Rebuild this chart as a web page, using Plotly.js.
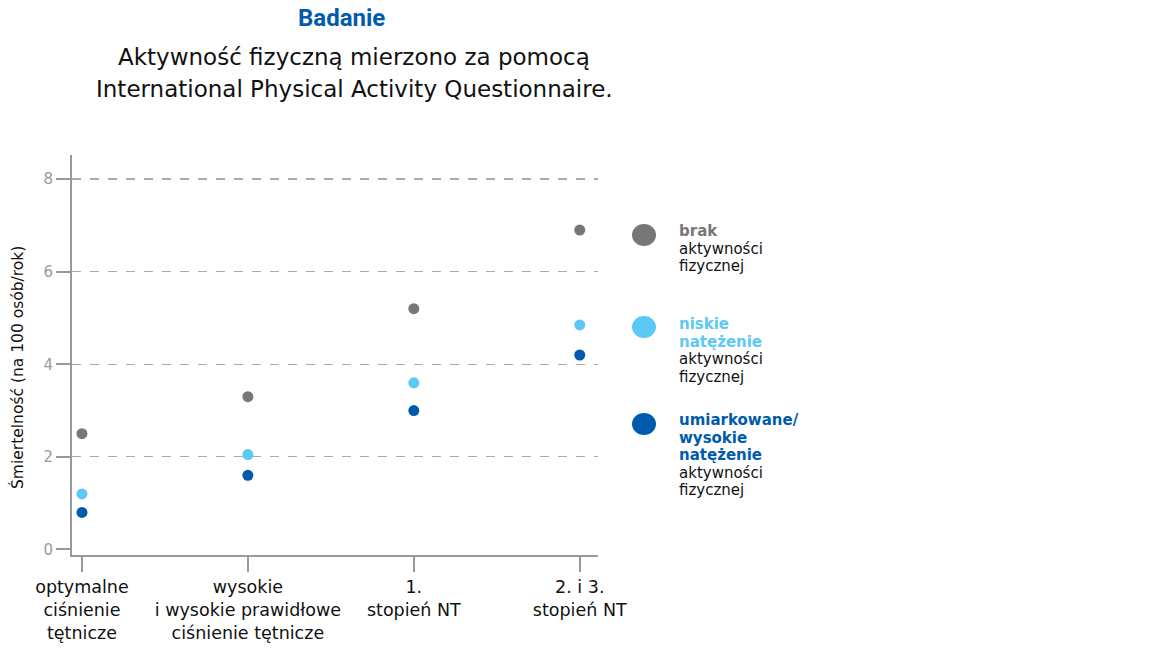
<!DOCTYPE html>
<html><head><meta charset="utf-8">
<script src="https://cdn.plot.ly/plotly-3.0.1.min.js"></script>
<style>html,body{margin:0;padding:0;background:#fff}#chart{width:1152px;height:661px}</style>
</head><body><div id="chart"></div>
<script>
const categories = [0, 1, 2, 3];
const tickLabels = [
  "optymalne<br>ciśnienie<br>tętnicze",
  "wysokie<br>i wysokie prawidłowe<br>ciśnienie tętnicze",
  "1.<br>stopień NT",
  "2. i 3.<br>stopień NT"
];
const yTicks = [0, 2, 4, 6, 8];
const gridTicks = [2, 4, 6, 8];
const brak = [2.5, 3.3, 5.2, 6.9];
const niskie = [1.2, 2.05, 3.6, 4.85];
const umiarkowane = [0.8, 1.6, 3.0, 4.2];
const seriesNames = ["brak aktywności fizycznej", "niskie natężenie aktywności fizycznej", "umiarkowane/wysokie natężenie aktywności fizycznej"];
const colors = ["#777777", "#5BC8F5", "#005BAC"];
const legendColored = [["brak"], ["niskie", "natężenie"], ["umiarkowane/", "wysokie", "natężenie"]];
const legendPlain = ["aktywności", "fizycznej"];

const FONT = "DejaVu Sans, Open Sans, sans-serif";
const PL = 72, PT = 155, PW = 526, PH = 400;
const px = x => (x - PL) / PW;
const py = y => (PT + PH - y) / PH;

const mk = (y, i) => ({x: categories, y: y, type: "scatter", mode: "markers", name: seriesNames[i],
  marker: {color: colors[i], size: 11}, showlegend: false, hoverinfo: "y"});
const data = [mk(brak, 0), mk(niskie, 1), mk(umiarkowane, 2),
  {x: categories, y: brak, yaxis: "y2", type: "scatter", mode: "markers", marker: {opacity: 0}, showlegend: false, hoverinfo: "skip"}];

const legendY = [235, 327, 424];
const shapes = legendY.map((cy, i) => ({type: "circle", xref: "paper", yref: "paper",
  x0: px(632), x1: px(656), y0: py(cy + 11), y1: py(cy - 11),
  fillcolor: colors[i], line: {width: 0}}));

const annotations = [];
const legendFirst = [231, 324, 420];
const LH = 17.5;
legendColored.forEach((lines, i) => {
  const all = lines.map(t => ({t: "<b>" + t + "</b>", c: colors[i]})).concat(legendPlain.map(t => ({t: t, c: "#111"})));
  all.forEach((l, j) => {
    annotations.push({xref: "paper", yref: "paper", x: px(677), y: py(legendFirst[i] + j * LH),
      xanchor: "left", yanchor: "middle", align: "left", showarrow: false,
      text: l.t, font: {family: FONT, size: 15, color: l.c}});
  });
});
annotations.push({xref: "paper", yref: "paper", x: px(341), y: py(18), xanchor: "center", yanchor: "middle",
  showarrow: false, text: "<b>Badanie</b>", font: {family: "Roboto, sans-serif", size: 24, color: "#005BAC"}});
annotations.push({xref: "paper", yref: "paper", x: px(354), y: py(57), xanchor: "center", yanchor: "middle",
  showarrow: false, text: "Aktywność fizyczną mierzono za pomocą", font: {family: FONT, size: 23, color: "#111"}});
annotations.push({xref: "paper", yref: "paper", x: px(354), y: py(89), xanchor: "center", yanchor: "middle",
  showarrow: false, text: "International Physical Activity Questionnaire.", font: {family: FONT, size: 23, color: "#111"}});
annotations.push({xref: "paper", yref: "paper", x: px(17), y: py(368), xanchor: "center", yanchor: "middle",
  textangle: -90, showarrow: false, text: "Śmiertelność (na 100 osób/rok)", font: {family: FONT, size: 15.5, color: "#111"}});

const layout = {
  width: 1152, height: 661,
  margin: {l: PL, r: 1152 - PL - PW, t: PT, b: 661 - PT - PH},
  paper_bgcolor: "#fff", plot_bgcolor: "rgba(0,0,0,0)",
  showlegend: false,
  xaxis: {range: [-0.06, 3.11], tickvals: categories, ticktext: tickLabels, showgrid: false, zeroline: false,
    showline: true, linecolor: "#999", linewidth: 2, ticks: "outside", ticklen: 15, tickcolor: "#999", tickwidth: 2,
    tickfont: {family: FONT, size: 17.5, color: "#111"}, fixedrange: true},
  yaxis: {range: [-0.12, 8.52], tickvals: yTicks, showgrid: false,
    zeroline: false, showline: true, linecolor: "#999", linewidth: 2, ticks: "outside", ticklen: 14, tickcolor: "#999", tickwidth: 2,
    tickfont: {family: FONT, size: 15, color: "#999"}, fixedrange: true},
  yaxis2: {overlaying: "y", matches: "y", range: [-0.12, 8.52], tickvals: gridTicks, showticklabels: false, ticks: "",
    showgrid: true, gridcolor: "#aaa", griddash: "dash", gridwidth: 1.2, zeroline: false, showline: false, fixedrange: true},
  shapes: shapes,
  annotations: annotations
};
Plotly.newPlot("chart", data, layout, {displayModeBar: false, staticPlot: true});
</script></body></html>
